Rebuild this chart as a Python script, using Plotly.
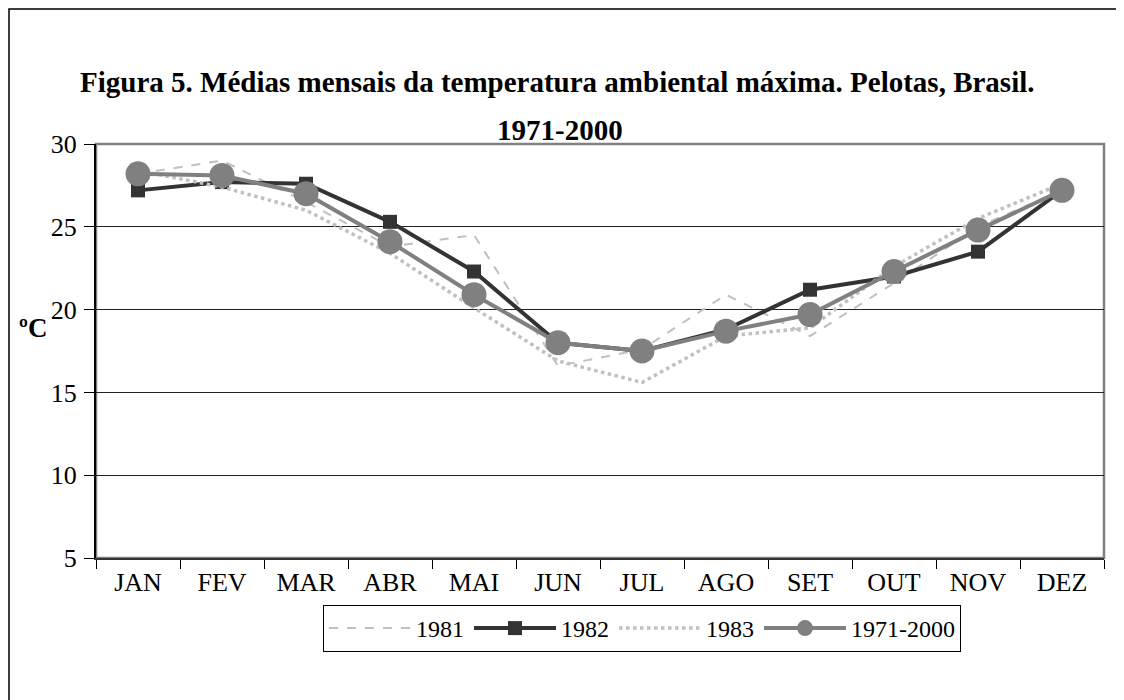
import plotly.graph_objects as go

months = ["JAN", "FEV", "MAR", "ABR", "MAI", "JUN", "JUL", "AGO", "SET", "OUT", "NOV", "DEZ"]
t1981 = [28.2, 29.0, 26.5, 23.8, 24.5, 16.6, 17.6, 20.9, 18.4, 21.6, 25.0, 27.2]
t1982 = [27.2, 27.7, 27.6, 25.3, 22.3, 18.0, 17.5, 18.8, 21.2, 22.0, 23.5, 27.2]
t1983 = [28.4, 27.4, 26.0, 23.4, 20.1, 16.9, 15.6, 18.4, 18.9, 22.6, 25.5, 27.6]
t7100 = [28.2, 28.1, 27.0, 24.1, 20.9, 18.0, 17.5, 18.7, 19.7, 22.3, 24.8, 27.2]
yticks = [5, 10, 15, 20, 25, 30]

FONT = "Liberation Serif, Times New Roman, serif"

fig = go.Figure()
fig.add_trace(go.Scatter(x=months, y=t1981, name="1981", mode="lines",
                         line=dict(color="#c0c0c0", width=2, dash="dash")))
fig.add_trace(go.Scatter(x=months, y=t1982, name="1982", mode="lines+markers",
                         line=dict(color="#333333", width=4),
                         marker=dict(symbol="square", size=14, color="#333333")))
fig.add_trace(go.Scatter(x=months, y=t1983, name="1983", mode="lines",
                         line=dict(color="#c0c0c0", width=3.5, dash="dot")))
fig.add_trace(go.Scatter(x=months, y=t7100, name="1971-2000", mode="lines+markers",
                         line=dict(color="#808080", width=4),
                         marker=dict(symbol="circle", size=25, color="#808080")))

# page is offset by the 8px body margin; screenshot coordinates below
OFF = 8
L, R, T, B = 96, 1104, 144, 558
W, H = 1124 - OFF, 700 - OFF

def px(x):
    return (x - L) / (R - L)

def py(y):
    return (B - y) / (B - T)

fig.update_layout(
    width=W, height=H,
    margin=dict(l=L - OFF, r=OFF + W - R, t=T - OFF, b=OFF + H - B, pad=0),
    paper_bgcolor="white", plot_bgcolor="white",
    font=dict(family=FONT, color="black", size=24),
    showlegend=True,
    legend=dict(orientation="h", x=px(642), xanchor="center", y=py(605), yanchor="top",
                bordercolor="black", borderwidth=1, font=dict(size=24, family=FONT),
                itemwidth=82, bgcolor="white", traceorder="normal"),
    xaxis=dict(type="category", tickson="boundaries", ticks="outside", ticklen=9,
               tickcolor="black", showline=True, linecolor="#333333", linewidth=2,
               showgrid=False, tickfont=dict(size=26, family=FONT), ticklabelstandoff=0,
               range=[-0.5, 11.5]),
    yaxis=dict(range=[5, 30], tickvals=yticks, ticks="outside", ticklen=10,
               tickcolor="black", showline=True, linecolor="black", linewidth=2,
               showgrid=True, gridcolor="#222222", gridwidth=1, zeroline=False,
               tickfont=dict(size=26, family=FONT), ticklabelstandoff=2),
    shapes=[
        dict(type="rect", xref="paper", yref="paper", x0=0, x1=1, y0=0, y1=1,
             line=dict(color="#808080", width=2.5), layer="below"),
        dict(type="rect", xref="paper", yref="paper", x0=px(9), x1=px(1140),
             y0=py(720), y1=py(9), line=dict(color="black", width=1.5)),
    ],
    annotations=[
        dict(text="<b>Figura 5. Médias mensais da temperatura ambiental máxima. Pelotas, Brasil.</b>",
             xref="paper", yref="paper", x=px(557), y=py(82), showarrow=False,
             xanchor="center", yanchor="middle", font=dict(size=29, family=FONT)),
        dict(text="<b>1971-2000</b>", xref="paper", yref="paper", x=px(560), y=py(130),
             showarrow=False, xanchor="center", yanchor="middle", font=dict(size=29, family=FONT)),
        dict(text="<b>ºC</b>", xref="paper", yref="paper", x=px(33), y=py(328),
             showarrow=False, xanchor="center", yanchor="middle", font=dict(size=27, family=FONT)),
    ],
)

fig.write_html("out.html")
